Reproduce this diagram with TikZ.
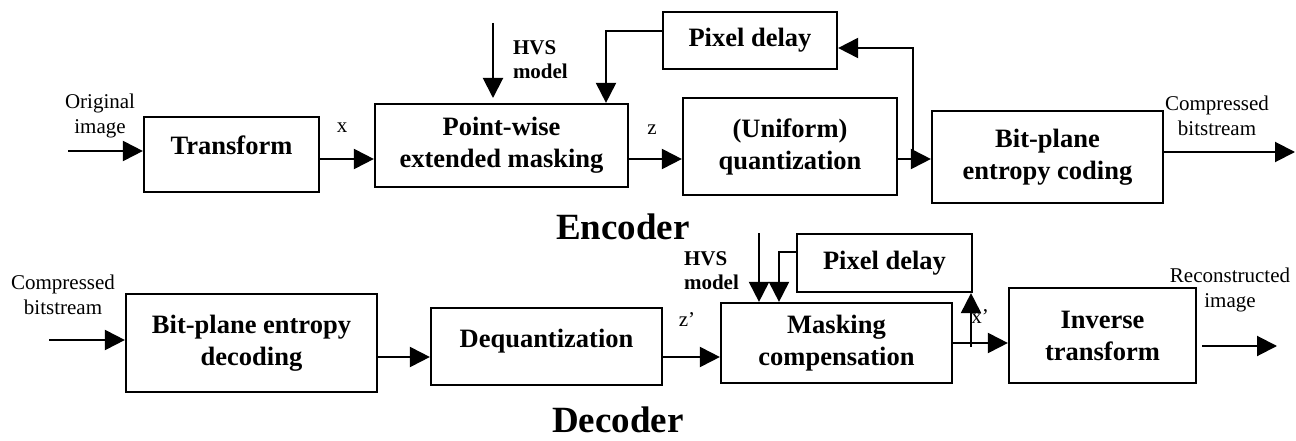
\documentclass[tikz,border=0pt]{standalone}
\usepackage{fontspec}
\setmainfont{Liberation Serif}
\usetikzlibrary{arrows.meta}

\tikzset{every picture/.style={line width=2pt}}
\tikzset{
  blk/.style={draw, line width=2.2pt, font=\fontsize{26.5}{32}\selectfont\bfseries, align=center, inner sep=0pt},
  uptext/.style={text height=18pt, text depth=17pt},
  lbl/.style={font=\fontsize{21}{25}\selectfont, align=center, inner sep=0pt},
  hvslbl/.style={font=\fontsize{21}{24}\selectfont\bfseries, align=left, inner sep=0pt, anchor=west},
  ttl/.style={font=\fontsize{37}{40}\selectfont\bfseries, inner sep=0pt},
  arr/.style={-{Triangle[length=20pt,width=20pt]}}
}

\begin{document}
\begin{tikzpicture}[x=1pt,y=1pt,yscale=-1]
\useasboundingbox (0,0) rectangle (1296,441);

% Encoder blocks
\node [blk, uptext, minimum width=175, minimum height=75] (tr) at (231.5,154.5) {Transform};
\node [blk, minimum width=253, minimum height=83] (mask) at (501.5,145.5) {Point-wise\\extended masking};
\node [blk, minimum width=174, minimum height=57] (pdel) at (750,40.5) {Pixel delay};
\node [blk, minimum width=214, minimum height=97] (quant) at (790,146.5) {(Uniform)\\quantization};
\node [blk, minimum width=231, minimum height=92] (bpc) at (1047.5,157) {Bit-plane\\entropy coding};

% Decoder blocks
\node [blk, minimum width=251, minimum height=98] (bpd) at (251.5,343) {Bit-plane entropy\\decoding};
\node [blk, uptext, minimum width=231, minimum height=77] (deq) at (546.5,346.5) {Dequantization};
\node [blk, minimum width=231, minimum height=80] (mcomp) at (836.5,343) {Masking\\compensation};
\node [blk, minimum width=175, minimum height=58] (pdel2) at (884.5,263) {Pixel delay};
\node [blk, minimum width=187, minimum height=95] (inv) at (1102.5,335.5) {Inverse\\transform};

% Free ends and bends
\coordinate (in1) at (68,151);
\coordinate (out1) at (1295,152);
\coordinate (hvs1) at (493,23);
\coordinate (hvs1e) at (493,98);
\coordinate (fb1) at (606,31);
\coordinate (br1) at (913,159);
\coordinate (fb2) at (913,48);
\coordinate (in2) at (49,340);
\coordinate (hvs2) at (759,233);
\coordinate (fb3) at (779,252);
\coordinate (br2) at (971,347);
\coordinate (out2s) at (1202,346);
\coordinate (out2) at (1277,346);

% Encoder connectors
\draw [arr] (in1) -- (tr.west |- in1);
\draw [arr] (tr.east |- br1) -- (mask.west |- br1);
\draw [arr] (mask.east |- br1) -- (quant.west |- br1);
\draw [arr] (quant.east |- br1) -- (bpc.west |- br1);
\draw [arr] (bpc.east |- out1) -- (out1);
\draw [arr] (hvs1) -- (hvs1e);
\draw [arr] (pdel.west |- fb1) -- (fb1) -- (mask.north -| fb1);
\draw [arr] (br1) -- (fb2) -- (pdel.east |- fb2);

% Decoder connectors
\draw [arr] (in2) -- (bpd.west |- in2);
\draw [arr] (bpd.east |- 0,357) -- (deq.west |- 0,357);
\draw [arr] (deq.east |- 0,357) -- (mcomp.west |- 0,357);
\draw [arr] (hvs2) -- (mcomp.north -| hvs2);
\draw [arr] (pdel2.west |- fb3) -- (fb3) -- (mcomp.north -| fb3);
\draw [arr] (mcomp.east |- 0,343) -- (inv.west |- 0,343);
\draw [arr] (br2) -- (pdel2.south -| br2);
\draw [arr] (out2s) -- (out2);

% Labels
\node [lbl] (orig) at (100,115.5) {Original\\image};
\node [lbl] (xlab) at (342,128) {x};
\node [lbl] (zlab) at (652,130) {z};
\node [hvslbl] (hvsenc) at (512,60) {HVS\\model};
\node [lbl] (cbs1) at (1217,115.5) {Compressed\\bitstream};
\node [ttl] (enc) at (623,227) {Encoder};

\node [lbl] (cbs2) at (63,294.5) {Compressed\\bitstream};
\node [hvslbl] (hvsdec) at (683,270.5) {HVS\\model};
\node [lbl] (zplab) at (687,320) {z’};
\node [lbl] (xplab) at (980,317) {x’};
\node [lbl] (recon) at (1230,289.5) {Reconstructed\\image};
\node [ttl] (dec) at (618,420) {Decoder};
\end{tikzpicture}
\end{document}
